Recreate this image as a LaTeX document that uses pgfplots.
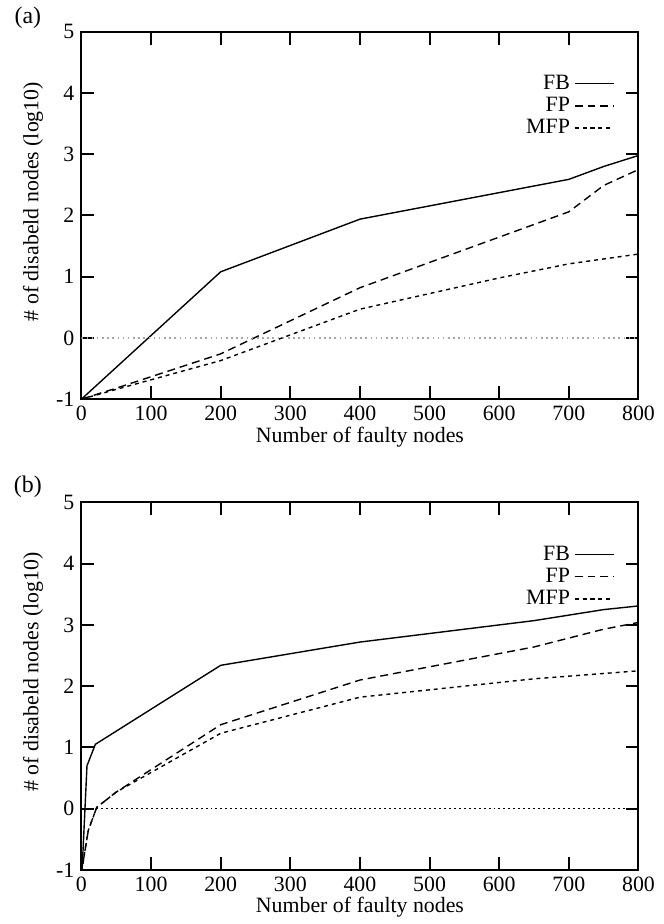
\documentclass[border=0pt]{standalone}
\usepackage{fontspec}
\setmainfont{Liberation Serif}
\usepackage{pgfplots}
\pgfplotsset{compat=1.18}

\pgfplotsset{
  gnu/.style={
    scale only axis,
    width=280.5pt, height=185pt,
    xmin=0, xmax=800, ymin=-1, ymax=5,
    xtick={0,100,...,800}, ytick={-1,0,...,5},
    tick align=inside, xtick pos=both, ytick pos=both,
    major tick length=6.5pt,
    axis line style={line width=1pt},
    major tick style={line width=1pt, black},
    font=\fontsize{11}{13}\selectfont,
    /pgf/number format/assume math mode=true,
    ticklabel style={font=\fontsize{11}{13}\selectfont},
    xlabel={Number of faulty nodes},
    ylabel={\# of disabeld nodes (log10)},
    xlabel style={yshift=4pt},
    ylabel style={at={(axis description cs:-0.056,0.538)}, anchor=south},
    legend style={draw=none, fill=none, at={(0.968,0.905)}, anchor=north east,
      font=\fontsize{11}{13}\selectfont, row sep=-1.5pt},
    legend cell align=right,
    legend plot pos=right,
    legend image post style={xshift=3.5pt, xscale=1.15},
    every axis plot/.append style={line width=0.7pt, black},
  },
  fb/.style={solid},
  fp/.style={dash pattern=on 4pt off 2.5pt},
  mfp/.style={dash pattern=on 2pt off 2pt},
}

\begin{document}
\begin{tikzpicture}
\begin{axis}[gnu, name=top]
\addplot[fb] coordinates {(0,-1)(200,1.08)(400,1.94)(700,2.59)(750,2.8)(800,2.98)};
\addlegendentry{FB}
\addplot[fp] coordinates {(0,-1)(50,-0.82)(200,-0.26)(400,0.82)(700,2.06)(750,2.49)(800,2.75)};
\addlegendentry{FP}
\addplot[mfp] coordinates {(0,-1)(50,-0.84)(200,-0.37)(400,0.47)(600,0.98)(700,1.21)(800,1.37)};
\addlegendentry{MFP}
\addplot[gray!70, line width=0.6pt, dash pattern=on 0.8pt off 1.8pt, forget plot] coordinates {(0,0)(800,0)};
\end{axis}

\begin{axis}[gnu, at={(0,-237pt)}]
\addplot[fb] coordinates {(1,-1)(8,0.7)(20,1.05)(200,2.34)(400,2.72)(650,3.07)(750,3.25)(800,3.31)};
\addlegendentry{FB}
\addplot[fp] coordinates {(2,-0.9)(10,-0.35)(22,0.02)(50,0.27)(200,1.37)(400,2.1)(650,2.64)(750,2.93)(800,3.04)};
\addlegendentry{FP}
\addplot[mfp] coordinates {(2,-0.9)(10,-0.35)(22,0.02)(50,0.27)(200,1.23)(400,1.82)(650,2.12)(800,2.25)};
\addlegendentry{MFP}
\addplot[black, line width=0.4pt, dash pattern=on 1pt off 1.5pt, forget plot] coordinates {(0,0)(800,0)};
\end{axis}

\node[font=\fontsize{12}{14}\selectfont] at (-27pt,192pt) {(a)};
\node[font=\fontsize{12}{14}\selectfont] at (-27pt,-44pt) {(b)};
\path (-41pt,-261pt) rectangle (293pt,201pt);
\end{tikzpicture}
\end{document}
